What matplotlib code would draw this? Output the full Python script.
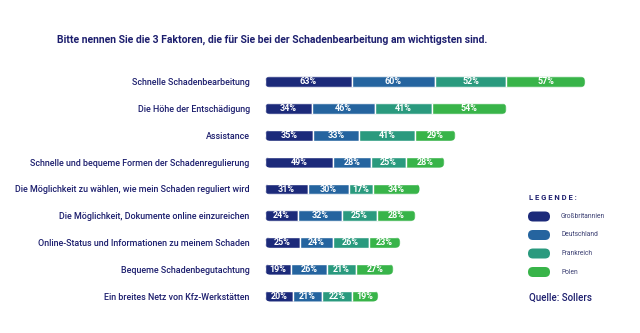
import matplotlib
matplotlib.use('Agg')
import matplotlib.pyplot as plt
from matplotlib.patches import FancyBboxPatch

plt.rcParams['font.family'] = ['Roboto', 'DejaVu Sans']

# data
factors = [
    'Schnelle Schadenbearbeitung',
    'Die Höhe der Entschädigung',
    'Assistance',
    'Schnelle und bequeme Formen der Schadenregulierung',
    'Die Möglichkeit zu wählen, wie mein Schaden reguliert wird',
    'Die Möglichkeit, Dokumente online einzureichen',
    'Online-Status und Informationen zu meinem Schaden',
    'Bequeme Schadenbegutachtung',
    'Ein breites Netz von Kfz-Werkstätten',
]
countries = ['Großbritannien', 'Deutschland', 'Frankreich', 'Polen']
gb = [63, 34, 35, 49, 31, 24, 25, 19, 20]
de = [60, 46, 33, 28, 30, 32, 24, 26, 21]
fr = [52, 41, 41, 25, 17, 25, 26, 21, 22]
pl = [57, 54, 29, 28, 34, 28, 23, 27, 19]

colors = ['#1c2a7a', '#25649f', '#2a9a7e', '#38b449']
navy = '#1d1f6e'

W, H = 640, 333
fig = plt.figure(figsize=(W / 100, H / 100), dpi=100)

# axes placed in pixel terms
ax_left, ax_right = 265, 610
ax_top, ax_bottom = 68.6, 309.4
ax = fig.add_axes([ax_left / W, 1 - ax_bottom / H,
                   (ax_right - ax_left) / W, (ax_bottom - ax_top) / H])
xmax = (ax_right - ax_left) / 1.38
ax.set_xlim(0, xmax)
ax.set_ylim(len(factors) - 0.5, -0.5)

px_per_x = (ax_right - ax_left) / xmax
px_per_y = (ax_bottom - ax_top) / len(factors)
aspect = px_per_x / px_per_y
bar_h = 11 / px_per_y

series = [gb, de, fr, pl]
ypos = list(range(len(factors)))
for i in ypos:
    total = sum(s[i] for s in series)
    clip = FancyBboxPatch((0, i - bar_h / 2), total, bar_h,
                          boxstyle='round,pad=0,rounding_size=%f' % (5.5 / px_per_x),
                          mutation_aspect=aspect, transform=ax.transData,
                          facecolor='none', edgecolor='none')
    ax.add_patch(clip)
    left = 0
    for s, c in zip(series, colors):
        rect = ax.barh(i, s[i], left=left, height=bar_h, color=c,
                       edgecolor='white', linewidth=1)[0]
        rect.set_clip_path(clip)
        ax.text(left + s[i] / 2, i, f'{s[i]}%', ha='center', va='center',
                color='white', fontsize=6.5, fontweight='bold')
        left += s[i]

ax.set_yticks(ypos)
ax.set_yticklabels(factors, fontsize=6.4, color=navy, fontweight='medium')
ax.tick_params(axis='y', length=0, pad=11)
ax.set_xticks([])
for sp in ax.spines.values():
    sp.set_visible(False)

fig.text(57 / W, 1 - 40 / H,
         'Bitte nennen Sie die 3 Faktoren, die für Sie bei der Schadenbearbeitung am wichtigsten sind.',
         fontsize=7.5, fontweight='bold', color=navy, va='center', ha='left')

# legend
fig.text(529 / W, 1 - 198 / H, 'L E G E N D E :', fontsize=5.5,
         fontweight='bold', color=navy, va='center', ha='left')
leg_y = [216.5, 235, 253.5, 272]
for name, c, y in zip(countries, colors, leg_y):
    pill = FancyBboxPatch((528 / 100, (H - y - 5) / 100), 22 / 100, 10 / 100,
                          boxstyle='round,pad=0,rounding_size=0.05',
                          transform=fig.dpi_scale_trans, facecolor=c,
                          edgecolor='none')
    fig.patches.append(pill)
    fig.text(561 / W, 1 - y / H, name, fontsize=4.8, color='#3b3f72',
             va='center', ha='left')

fig.text(529 / W, 1 - 298 / H, 'Quelle: Sollers', fontsize=7,
         fontweight='medium', color=navy, va='center', ha='left')

fig.savefig('out.png', dpi=100)
